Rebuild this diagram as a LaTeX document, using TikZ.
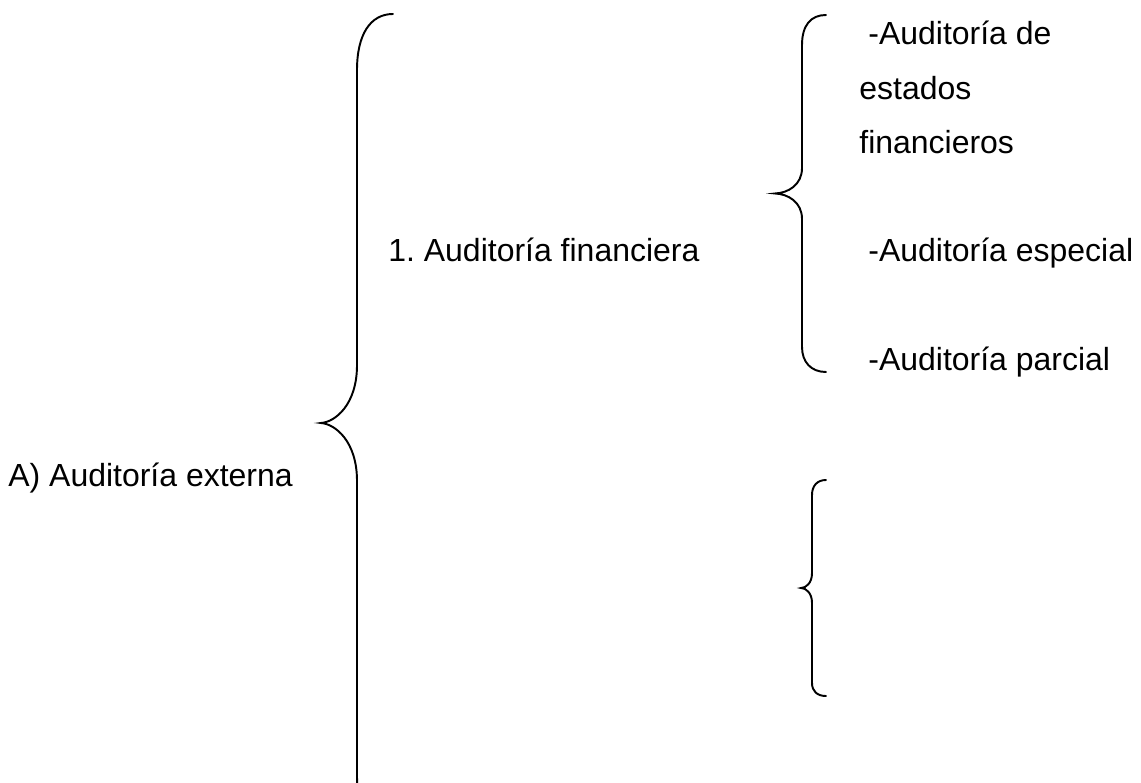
\documentclass[tikz,border=0pt]{standalone}
\usepackage{fontspec}
\setmainfont{Liberation Sans}
\usepackage{tikz}
\usetikzlibrary{positioning}
\frenchspacing

\begin{document}
\begin{tikzpicture}[
    x=0.02cm, y=-0.02cm,
    lbl/.style={anchor=base west, inner sep=0pt, font=\fontsize{18.2}{22}\selectfont},
    brc/.style={line width=1.1pt, line cap=round}
]
\useasboundingbox (0,0) rectangle (1141,783);

% levels of the outline
\node[lbl] (ext) at (8,486) {A) Auditoría externa};
\node[lbl] (fin) at (388,262) {1. Auditoría financiera};
\node[lbl] (est1) at (868,45) {-Auditoría de};
\node[lbl] (est2) at (859,100) {estados};
\node[lbl] (est3) at (859,154) {financieros};
\node[lbl] (esp) at (868,262) {-Auditoría especial};
\node[lbl] (par) at (868,370) {-Auditoría parcial};

% big brace
\draw[brc] (393,14) .. controls (370,14) and (357,35) .. (357,70)
    -- (357,365) .. controls (357,405) and (335,422) .. (321,423)
    .. controls (335,424) and (357,441) .. (357,481)
    -- (357,776) .. controls (357,811) and (370,832) .. (393,832);

% brace of 1.
\draw[brc] (826,15) .. controls (811,15) and (802,25) .. (802,45)
    -- (802,168) .. controls (802,185) and (788,193) .. (775,193.5)
    .. controls (788,194) and (802,202) .. (802,219)
    -- (802,347) .. controls (802,362) and (811,372) .. (826,372);

% empty brace
\draw[brc] (826,480) .. controls (817,480) and (812,486) .. (812,495)
    -- (812,573) .. controls (812,583) and (806,588) .. (801,588)
    .. controls (806,588) and (812,593) .. (812,603)
    -- (812,683) .. controls (812,691) and (817,696) .. (826,696);
\end{tikzpicture}
\end{document}
